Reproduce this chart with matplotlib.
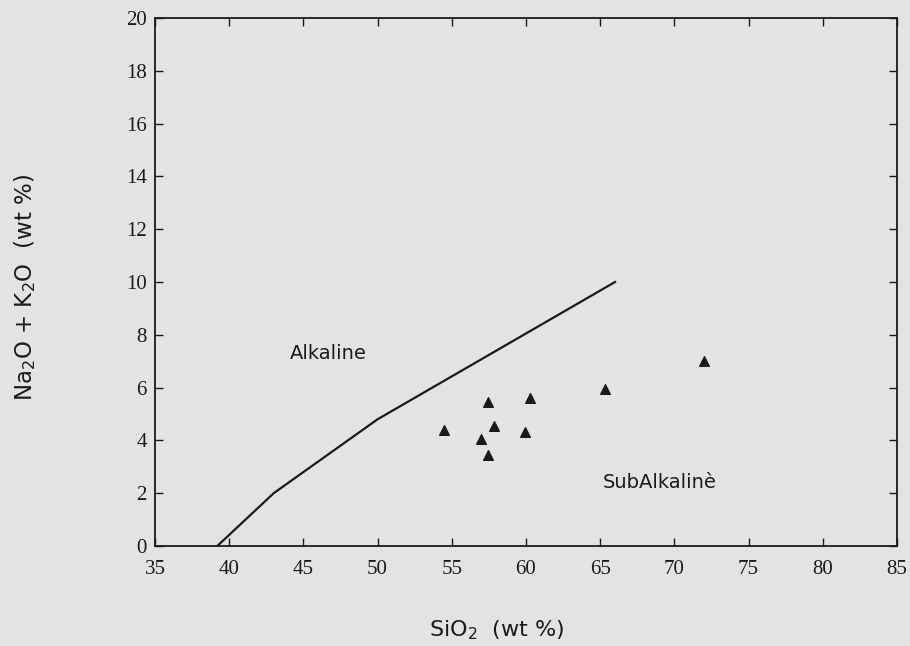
import matplotlib
matplotlib.use("Agg")
import matplotlib.pyplot as plt

# alkaline / subalkaline dividing line
line_sio2 = [39.2, 43.0, 50.0, 66.0]
line_alk = [0.0, 2.0, 4.8, 10.0]

# samples
sio2 = [54.5, 57.45, 60.25, 57.85, 57.0, 59.95, 57.45, 65.3, 72.0]
alk = [4.4, 5.45, 5.6, 4.55, 4.05, 4.3, 3.45, 5.95, 7.0]

xticks = [35, 40, 45, 50, 55, 60, 65, 70, 75, 80, 85]
yticks = [0, 2, 4, 6, 8, 10, 12, 14, 16, 18, 20]

bg = "#e3e3e3"
ink = "#1a1a1a"
fig = plt.figure(figsize=(9.1, 6.46), dpi=100, facecolor=bg)
ax = fig.add_axes([0.1703, 0.1548, 0.8154, 0.8173], facecolor=bg)

ax.plot(line_sio2, line_alk, color=ink, lw=1.6)
ax.scatter(sio2, alk, marker="^", s=48, color=ink, zorder=3)

ax.text(46.7, 7.3, "Alkaline", fontsize=14, family="DejaVu Sans",
        ha="center", va="center", color=ink)
ax.text(69.0, 2.4, "SubAlkalinè", fontsize=14, family="DejaVu Sans",
        ha="center", va="center", color=ink)

ax.set_xlim(35, 85)
ax.set_ylim(0, 20)
ax.set_xticks(xticks)
ax.set_yticks(yticks)
ax.tick_params(direction="in", top=True, right=True, length=6, width=1,
               labelsize=15, colors=ink)
ax.tick_params(axis="x", pad=10)
ax.tick_params(axis="y", pad=6)
for lab in ax.get_xticklabels() + ax.get_yticklabels():
    lab.set_family("Liberation Serif")
for sp in ax.spines.values():
    sp.set_linewidth(1.3)
    sp.set_color(ink)

ax.set_xlabel("SiO$_2$  (wt %)", fontsize=16, family="DejaVu Sans",
              color=ink, va="center")
ax.set_ylabel("Na$_2$O + K$_2$O  (wt %)", fontsize=16.5, family="DejaVu Sans",
              color=ink, va="center")
ax.xaxis.set_label_coords(0.461, -0.159)
ax.yaxis.set_label_coords(-0.175, 0.489)

fig.savefig("out.png", dpi=100, facecolor=bg)
